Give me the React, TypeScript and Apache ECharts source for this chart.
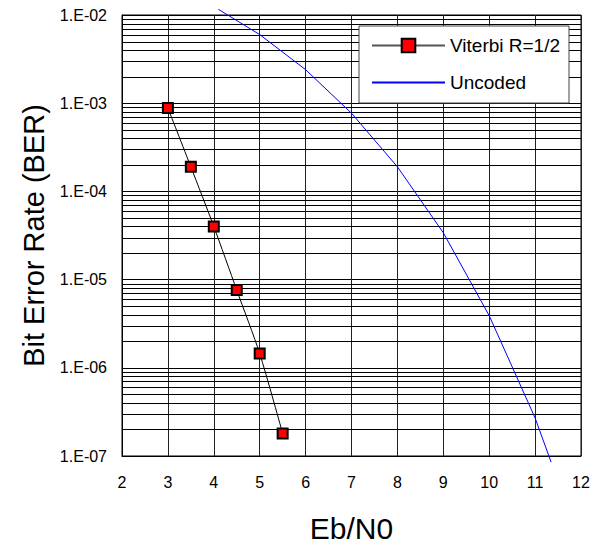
import React, { useEffect, useRef } from "react";
import * as echarts from "echarts";

const viterbiX = [3, 3.5, 4, 4.5, 5, 5.5];
const viterbiBer = [8.8e-4, 1.9e-4, 4.0e-5, 7.6e-6, 1.45e-6, 1.8e-7];
const uncodedX = [4.1, 5, 6, 7, 8, 9, 10, 11, 11.35];
const uncodedBer = [1.16e-2, 6.0e-3, 2.4e-3, 7.7e-4, 1.9e-4, 3.4e-5, 3.9e-6, 2.7e-7, 8.5e-8];
const decades = [1e-7, 1e-6, 1e-5, 1e-4, 1e-3];
const minorSteps = [2, 3, 4, 5, 6, 7, 8, 9];
const seriesNames = ["Viterbi R=1/2", "Uncoded"];
const X_MIN = 2;
const X_MAX = 12;

const FONT = "'Liberation Sans', Arial, sans-serif";

export default function App() {
  const ref = useRef<HTMLDivElement>(null);
  useEffect(() => {
    document.body.style.margin = "0";
    const chart = echarts.init(ref.current!, null, { renderer: "svg" });
    const minorLines: number[][] = [];
    decades.forEach((d) => minorSteps.forEach((k) => minorLines.push([X_MIN, k * d, X_MAX])));
    chart.setOption({
      animation: false,
      backgroundColor: "#fff",
      textStyle: { fontFamily: FONT },
      grid: {
        left: 122,
        right: 15,
        top: 15,
        bottom: 87,
        show: true,
        borderColor: "#000",
        borderWidth: 1,
        backgroundColor: "transparent",
      },
      graphic: [
        {
          type: "rect",
          z: 3,
          shape: { x: 359, y: 26, width: 210, height: 77 },
          style: { fill: "#fff", stroke: "#444", lineWidth: 1 },
        },
      ],
      legend: {
        data: [
          { name: seriesNames[0], lineStyle: { color: "#555" } },
          {
            name: seriesNames[1],
            itemStyle: { color: "rgba(0,0,0,0)", borderWidth: 0, opacity: 0 },
          },
        ],
        orient: "vertical",
        left: 371,
        top: 36,
        padding: 0,
        itemWidth: 73,
        itemHeight: 17,
        itemGap: 18,
        z: 5,
        textStyle: { fontSize: 19, color: "#000", fontFamily: FONT },
      },
      xAxis: {
        type: "value",
        min: X_MIN,
        max: X_MAX,
        interval: 1,
        name: "Eb/N0",
        nameLocation: "middle",
        nameGap: 57,
        nameTextStyle: { fontSize: 30, color: "#000", fontFamily: FONT },
        axisLine: { lineStyle: { color: "#000", width: 1 } },
        axisTick: { show: false },
        axisLabel: { fontSize: 16, color: "#000", margin: 18, fontFamily: FONT },
        splitLine: { show: true, lineStyle: { color: "#222", width: 1 } },
      },
      yAxis: {
        type: "log",
        logBase: 10,
        min: 1e-7,
        max: 1e-2,
        name: "Bit Error Rate (BER)",
        nameLocation: "middle",
        nameGap: 73,
        nameTextStyle: { fontSize: 29, color: "#000", fontFamily: FONT },
        axisLine: { show: true, lineStyle: { color: "#000", width: 1 } },
        axisTick: { show: false },
        axisLabel: {
          fontSize: 16,
          color: "#000",
          margin: 15,
          fontFamily: FONT,
          formatter: (v: number) => {
            const e = Math.round(Math.log10(v));
            return "1.E" + (e < 0 ? "-" : "+") + String(Math.abs(e)).padStart(2, "0");
          },
        },
        splitLine: { show: true, lineStyle: { color: "#000", width: 1 } },
      },
      series: [
        {
          name: "minor-grid",
          type: "custom",
          z: 1,
          silent: true,
          encode: { x: [0, 2], y: 1 },
          data: minorLines,
          renderItem: (_params: any, api: any) => {
            const p1 = api.coord([api.value(0), api.value(1)]);
            const p2 = api.coord([api.value(2), api.value(1)]);
            const y = Math.round(p1[1]) + 0.5;
            return {
              type: "line",
              shape: { x1: p1[0], y1: y, x2: p2[0], y2: y },
              style: { stroke: "#000", lineWidth: 1 },
            };
          },
        },
        {
          name: seriesNames[0],
          type: "line",
          z: 3,
          data: viterbiX.map((x, i) => [x, viterbiBer[i]]),
          smooth: 0.25,
          symbol: "rect",
          symbolSize: 10,
          lineStyle: { color: "#000", width: 1 },
          itemStyle: { color: "#ff0000", borderColor: "#000", borderWidth: 2 },
        },
        {
          name: seriesNames[1],
          type: "line",
          z: 2,
          clip: false,
          data: uncodedX.map((x, i) => [x, uncodedBer[i]]),
          symbol: "none",
          lineStyle: { color: "#0000ff", width: 1 },
          itemStyle: { color: "#0000ff" },
        },
      ],
    });
    return () => chart.dispose();
  }, []);
  return (
    <div
      ref={ref}
      style={{ position: "absolute", left: 0, top: 0, width: 596, height: 548 }}
    />
  );
}
